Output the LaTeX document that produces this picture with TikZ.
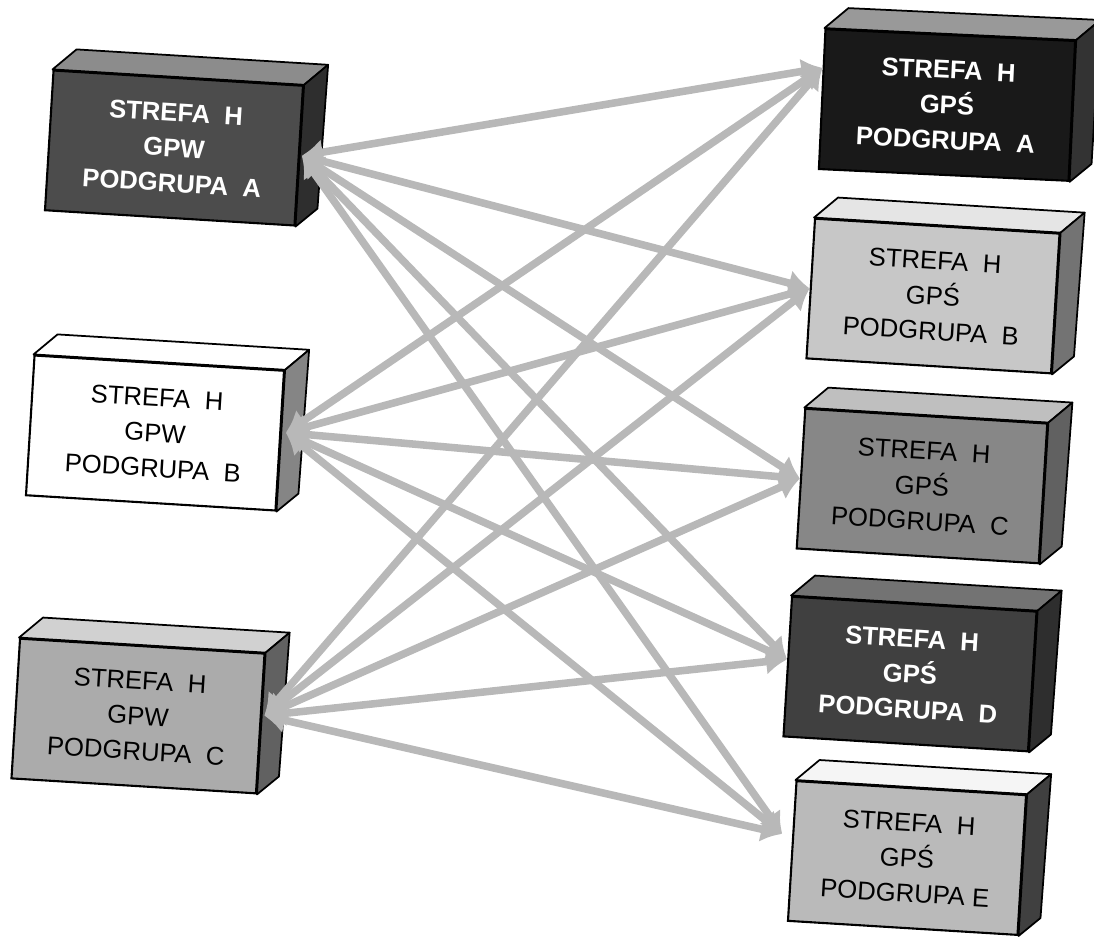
\documentclass[tikz,border=0pt]{standalone}
\usepackage{fontspec}
\setmainfont{Liberation Sans}
\usepackage{tikz}
\usetikzlibrary{calc, arrows.meta}
\definecolor{linkgray}{HTML}{B8B8B8}
\tikzset{
	slabnode/.style={draw=black, line width=1.2pt, minimum width=5cm, minimum height=2.8cm,
		inner sep=0pt, align=center, rotate=-3.5, font=\fontsize{14.6}{20}\selectfont}
}
\tikzset{
	darkslab/.style={slabnode, text=white, font=\fontsize{14.6}{20}\selectfont\bfseries}
}
\tikzset{
	lightslab/.style={slabnode, text=black}
}
\tikzset{
	linkarrow/.style={draw=linkgray, line width=4.3pt,
		{Latex[length=12pt,width=15pt]}-{Latex[length=12pt,width=15pt]}}
}

\begin{document}
\begin{tikzpicture}[x=0.02cm, y=-0.02cm]
\useasboundingbox (0,0) rectangle (1094,940);

% GPW, left column
\node[darkslab, fill=black!70] (lA) at (174,148) {STREFA\ \ H\\GPW\\PODGRUPA\ \ A};
\node[lightslab, fill=white] (lB) at (155,433) {STREFA\ \ H\\GPW\\PODGRUPA\ \ B};
\node[lightslab, fill=black!33, minimum width=4.9cm] (lC) at (138,716) {STREFA\ \ H\\GPW\\PODGRUPA\ \ C};

% GPS, right column
\node[darkslab, fill=black!90, rotate=0.8] (rA) at (947,105) {STREFA\ \ H\\GPŚ\\PODGRUPA\ \ A};
\node[lightslab, fill=black!22, minimum width=4.9cm] (rB) at (933,296) {STREFA\ \ H\\GPŚ\\PODGRUPA\ \ B};
\node[lightslab, fill=black!47, minimum width=4.85cm] (rC) at (922,486) {STREFA\ \ H\\GPŚ\\PODGRUPA\ \ C};
\node[darkslab, fill=black!75, minimum width=4.9cm] (rD) at (910,674) {STREFA\ \ H\\GPŚ\\PODGRUPA\ \ D};
\node[lightslab, fill=black!27, minimum width=4.6cm] (rE) at (907,858) {STREFA\ \ H\\GPŚ\\PODGRUPA E};

% top and side faces
\foreach \n/\topc/\sidec in {lA/black!45/black!82, lB/white/black!48, lC/black!18/black!62,
	rA/black!40/black!80, rB/black!10/black!55, rC/black!25/black!62,
	rD/black!55/black!82, rE/black!4/black!75}{
	\filldraw[fill=\topc, draw=black, line width=1pt, line join=round]
		(\n.north west) -- ++(24,-20) -- ($(\n.north east)+(24,-20)$) -- (\n.north east) -- cycle;
	\filldraw[fill=\sidec, draw=black, line width=1pt, line join=round]
		(\n.north east) -- ($(\n.north east)+(24,-20)$) -- ($(\n.south east)+(22,-18)$) -- (\n.south east) -- cycle;
}

\coordinate (lAout) at ($(lA.east)+(2,0)$);
\coordinate (lBout) at ($(lB.east)+(5,-8)$);
\coordinate (lCout) at ($(lC.east)+(3,-8)$);
\coordinate (rAin) at ($(rA.north west)!.28!(rA.south west)$);
\coordinate (rBin) at (rB.west);
\coordinate (rCin) at (rC.west);
\coordinate (rDin) at ($(rD.north west)!.45!(rD.south west)$);
\coordinate (rEin) at ($(rE.north west)!.38!(rE.south west)+(-10,0)$);

\foreach \a in {lAout,lBout,lCout}
	\foreach \b in {rAin,rBin,rCin,rDin,rEin}
		\draw[linkarrow] (\a) -- (\b);

\end{tikzpicture}
\end{document}
